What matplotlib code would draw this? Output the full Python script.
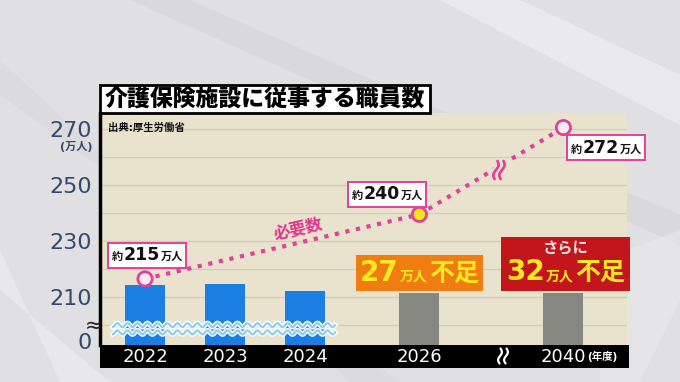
import matplotlib
matplotlib.use('Agg')
import matplotlib.pyplot as plt
import numpy as np
from matplotlib.offsetbox import TextArea, HPacker, VPacker, AnnotationBbox
from matplotlib.patches import Rectangle, Polygon
from matplotlib.lines import Line2D
import matplotlib.patheffects as pe
import matplotlib.transforms as mtransforms

# ---------------- data ----------------
years = ['2022', '2023', '2024', '2026', '2040']
staff = [214.3, 214.8, 212.2, 211.5, 211.5]          # 職員数 (bar heights)
bar_kind = ['actual', 'actual', 'actual', 'proj', 'proj']
need_years = ['2022', '2026', '2040']
need_values = [216.5, 239.5, 270.5]                  # 必要数 (marker positions)
need_labels = ['215', '240', '272']
shortage_years = ['2026', '2040']
shortage_values = ['27', '32']
ytick_values = [210, 230, 250, 270]
grid_values = [200, 210, 220, 230, 240, 250, 260, 270]

# ---------------- layout ----------------
W, H = 680, 382
slot = {'2022': 0.0, '2023': 1.0, '2024': 2.0, '2026': 3.43, '2040': 5.23}
YLO, YHI = 192.9, 275.7
ZERO_POS = 194.3

CJK = ['DejaVu Sans', 'Noto Sans CJK JP']
plt.rcParams['font.family'] = CJK

PINK = '#e2409a'
BEIGE = '#e9e3cd'
SLATE = '#34476e'

fig = plt.figure(figsize=(W / 100, H / 100), dpi=100)
fig.patch.set_facecolor('#e0e0e2')


def fpt(x, y):
    return (x / W, 1 - y / H)


# background diagonal shading (subtle)
for poly, col, a in [
    ([(130, 0), (190, 0), (680, 215), (680, 245)], '#d4d4d7', 0.55),
    ([(440, 0), (520, 0), (680, 75), (680, 125)], '#ececee', 0.9),
    ([(0, 60), (0, 95), (400, 382), (350, 382)], '#d6d6d9', 0.45),
    ([(0, 250), (0, 290), (110, 382), (60, 382)], '#ebebed', 0.8),
    ([(600, 260), (680, 230), (680, 300), (640, 382), (600, 382)], '#e9e9eb', 0.6),
]:
    fig.patches.append(Polygon([fpt(*p) for p in poly], closed=True, transform=fig.transFigure,
                               facecolor=col, edgecolor='none', alpha=a, zorder=0))

ax = fig.add_axes([100 / W, 1 - 345 / H, 527 / W, 232 / H])
ax.set_zorder(1)
ax.set_facecolor(BEIGE)
ax.set_xlim(-0.5625, 6.025)
ax.set_ylim(YLO, YHI)
for s in ['top', 'right', 'bottom']:
    ax.spines[s].set_visible(False)
ax.spines['left'].set_linewidth(2.5)
ax.spines['left'].set_color('black')

for g in grid_values:
    ax.axhline(g, color='#d6ceb4', lw=1, zorder=0.5)

ax.set_xticks([])
ax.set_yticks([ZERO_POS] + ytick_values, labels=['0'] + [str(v) for v in ytick_values])
ax.tick_params(axis='y', length=0, pad=6, labelsize=16, labelcolor=SLATE)

# bars
pos = [slot[y] for y in years]
colors = ['#1a7ee2' if k == 'actual' else '#878782' for k in bar_kind]
ax.bar(pos, [v - YLO for v in staff], bottom=YLO, width=0.5, color=colors, zorder=2)

# wavy break over actual bars
xw = np.linspace(-0.4, 2.375, 400)
for base in [200.0, 197.4]:
    yw = base + 0.7 * np.sin(2 * np.pi * xw / 0.125)
    ax.plot(xw, yw, color='#8fcdf2', lw=1.6, zorder=3,
            path_effects=[pe.Stroke(linewidth=3.6, foreground='white'), pe.Normal()])

# bottom black band
ax.add_patch(Rectangle((0, -23 / 232), 1.004, 23 / 232, transform=ax.transAxes,
                       clip_on=False, facecolor='black', edgecolor='none', zorder=5))
bt = mtransforms.blended_transform_factory(ax.transData, ax.transAxes)
for y in years:
    ax.text(slot[y], -11.5 / 232, y, transform=bt, ha='center', va='center',
            color='white', fontsize=13, zorder=6)
ax.annotate('(年度)', xy=(slot['2040'], -11.5 / 232), xycoords=bt,
            xytext=(17, 0), textcoords='offset points', ha='left', va='center',
            color='white', fontsize=7.5, weight='bold', zorder=6)


def squiggle(cx, cy, color, h, sep, lw, amp, slant, bg=None):
    t = np.linspace(0, 1, 60)
    for dx in (-sep / 2, sep / 2):
        xs = cx + dx + amp * np.sin(2 * np.pi * t) + slant * (0.5 - t)
        ys = cy - h / 2 + h * t
        effects = [pe.Stroke(linewidth=lw + 3, foreground=bg), pe.Normal()] if bg else []
        fig.add_artist(Line2D(xs / W, 1 - ys / H, transform=fig.transFigure, color=color,
                              lw=lw, zorder=20, solid_capstyle='round', path_effects=effects))


squiggle(503, 356, 'white', 15, 6, 1.6, 1.6, 1.0)

# needed line
npos = [slot[y] for y in need_years]
ax.plot(npos, need_values, color=PINK, lw=3, ls=(0, (1, 1.6)), zorder=4)
ax.scatter(npos, need_values, s=105, facecolors=['#fbeaf0', '#f4e41c', '#f8eef1'],
           edgecolors=PINK, linewidths=2, zorder=7)
squiggle(499, 170, PINK, 18, 6, 2.0, 1.8, 3.0, bg=BEIGE)

t = 0.56
ax.annotate('必要数', xy=(npos[0] + t * (npos[1] - npos[0]), need_values[0] + t * (need_values[1] - need_values[0])),
            xytext=(0, 9), textcoords='offset points', ha='center', va='center', rotation=13,
            color='#e0358f', fontsize=12, weight='bold', zorder=6)

# value label boxes
offsets = [(1.5, 17), (-23, 14.5), (31, -14.5)]
for p, v, lab, off in zip(npos, need_values, need_labels, offsets):
    box = HPacker(children=[
        TextArea('約', textprops=dict(size=8, weight='bold', color='#111')),
        TextArea(lab, textprops=dict(size=12.5, weight='bold', color='#111')),
        TextArea('万人', textprops=dict(size=8, weight='bold', color='#111')),
    ], align='baseline', pad=0, sep=0.5)
    ab = AnnotationBbox(box, (p, v), xybox=off, boxcoords='offset points', frameon=True,
                        pad=0.2, bboxprops=dict(edgecolor=PINK, facecolor='white', lw=1.4,
                                                boxstyle='square,pad=0.25'), zorder=8)
    ax.add_artist(ab)

# shortage boxes
sp = [slot[y] for y in shortage_years]
sv = [staff[years.index(y)] for y in shortage_years]
YEL = '#fde91c'
box1 = HPacker(children=[
    TextArea(shortage_values[0], textprops=dict(size=20, weight='bold', color=YEL)),
    TextArea('万人', textprops=dict(size=10, weight='bold', color=YEL)),
    TextArea('不足', textprops=dict(size=18, weight='bold', color=YEL)),
], align='baseline', pad=0, sep=1)
ab1 = AnnotationBbox(box1, (sp[0], sv[0]), xybox=(0, 14.5), boxcoords='offset points', frameon=True,
                     pad=0.15, bboxprops=dict(edgecolor='none', facecolor='#ef7d12',
                                              boxstyle='square,pad=0.3'), zorder=8)
ax.add_artist(ab1)

line2 = HPacker(children=[
    TextArea(shortage_values[1], textprops=dict(size=20, weight='bold', color=YEL)),
    TextArea('万人', textprops=dict(size=10, weight='bold', color=YEL)),
    TextArea('不足', textprops=dict(size=18, weight='bold', color=YEL)),
], align='baseline', pad=0, sep=1)
box2 = VPacker(children=[
    TextArea('さらに', textprops=dict(size=11, weight='bold', color='#fbe4e4')),
    line2], align='center', pad=0, sep=1)
ab2 = AnnotationBbox(box2, (sp[1], sv[1]), xybox=(1.5, 21), boxcoords='offset points', frameon=True,
                     pad=0.15, bboxprops=dict(edgecolor='none', facecolor='#c3161c',
                                              boxstyle='square,pad=0.35'), zorder=8)
ax.add_artist(ab2)

# title
fig.patches.append(Rectangle(fpt(100, 113), 330 / W, 28 / H, transform=fig.transFigure,
                             facecolor='white', edgecolor='black', lw=2, zorder=3))
fig.text(*fpt(265, 99.5), '介護保険施設に従事する職員数', ha='center', va='center',
         fontsize=16.5, weight='black', color='black', zorder=4)
fig.text(*fpt(108, 128), '出典:厚生労働省', ha='left', va='center', fontsize=7.5,
         weight='bold', color='#111', zorder=4)
fig.text(*fpt(76, 147), '(万人)', ha='center', va='center', fontsize=8, weight='bold',
         color=SLATE, zorder=4)
fig.text(*fpt(94, 326), '≈', ha='center', va='center', fontsize=15, color='#222', zorder=4)

fig.savefig('out.png', dpi=100, facecolor=fig.get_facecolor())
